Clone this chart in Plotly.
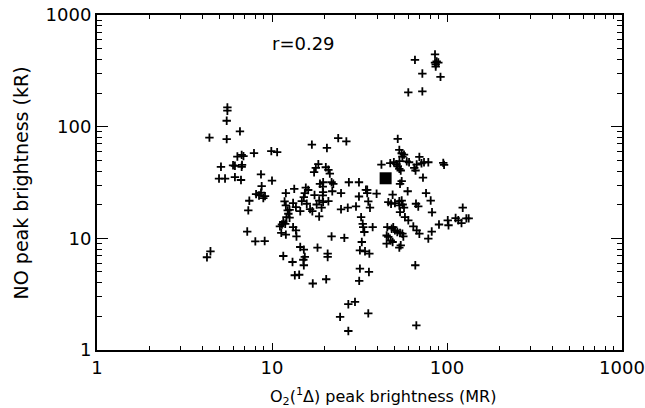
import plotly.graph_objects as go

# O2(1Delta) peak brightness (MR) and NO peak brightness (kR)
o2_mr = [4.25, 4.45, 4.39, 5.56, 5.56, 5.51, 6.56, 5.51, 6.34, 6.71, 6.87, 7.89, 9.91, 10.7,
         5.11, 5.99, 6.14, 6.74, 6.71, 4.98, 5.39, 6.14, 6.65, 8.65, 10.0, 8.73, 8.11, 8.43,
         8.65, 9.12, 8.92, 7.42, 7.32, 7.22, 8.03, 9.08, 11.6,
         12.0, 11.8, 12.0, 12.3, 12.4, 12.1, 11.6, 11.4, 11.1, 11.9, 11.3, 12.0,
         16.9, 20.6, 23.9, 26.6, 18.4, 17.8, 17.4, 20.3, 21.0, 21.4, 18.8, 19.6, 21.9, 22.4,
         27.5, 31.4, 13.4, 15.6, 16.1, 15.4, 19.5, 19.6, 22.1, 24.8, 31.4, 35.0,
         12.6, 13.2, 13.7, 14.5, 14.8, 15.2, 15.8, 16.5, 17.0, 17.5, 18.0, 18.6, 19.2, 19.6,
         21.0, 19.5, 24.8, 27.1, 30.2, 18.6, 12.6, 13.2, 13.7, 13.8, 21.9, 25.9,
         32.3, 33.0, 33.2, 33.7, 32.6, 31.8, 14.5, 15.2, 18.2, 20.8, 20.8, 15.4,
         13.1, 15.1, 15.2, 13.5, 14.3, 17.1, 20.4, 36.0, 31.8, 35.8, 31.5, 65.9,
         27.3, 29.8, 24.5, 35.5, 27.3, 66.8,
         52.3, 53.4, 55.1, 56.8, 55.6, 42.2, 47.4, 49.7, 51.4, 52.3, 53.4, 54.4, 53.5, 58.9,
         60.7, 65.0, 67.1, 69.5, 71.5, 73.9, 78.2, 66.1, 95.2, 96.2, 72.9, 55.1, 53.9, 59.6,
         34.4, 35.0, 39.6, 48.9, 46.2, 47.9, 50.4, 53.4, 55.1, 53.4, 55.8, 56.8, 53.9, 57.5,
         60.1, 66.5, 68.5, 75.9, 80.7, 82.1, 35.5, 36.3, 34.0, 37.6, 45.6, 48.3, 49.3, 50.4,
         45.2, 46.2, 47.7, 45.2, 48.9, 52.0, 53.9, 55.6, 56.3, 54.4, 53.4, 64.2, 67.1, 69.5,
         81.8, 78.2, 90.0, 101, 102, 112, 116, 121, 123, 129, 133,
         65.6, 85.4, 85.4, 89.2, 86.2, 87.3, 86.2, 72.3, 91.8, 60.1, 72.3]
no_kr = [6.77, 7.65, 79.8, 149, 139, 113, 90.8, 77.3, 54.0, 55.9, 54.5, 58.0, 60.4, 59.2,
         43.7, 45.1, 44.6, 45.5, 43.7, 34.3, 34.3, 35.3, 33.3, 37.4, 32.9, 29.3, 24.9, 24.2,
         25.6, 23.9, 22.9, 21.7, 17.8, 11.5, 9.40, 9.46, 6.95,
         25.4, 21.4, 19.7, 17.8, 16.6, 15.5, 14.0, 13.3, 12.8, 13.5, 11.2, 10.8,
         69.1, 64.5, 78.9, 73.8, 46.2, 42.8, 39.1, 43.3, 41.1, 38.0, 30.8, 31.8, 31.8, 30.8,
         31.8, 31.8, 27.7, 28.4, 27.1, 25.4, 29.1, 25.9, 26.4, 25.4, 23.7, 27.2,
         18.0, 20.7, 19.0, 17.5, 21.5, 23.4, 20.4, 18.3, 17.5, 24.4, 20.1, 21.8, 18.8, 21.1,
         21.5, 24.2, 18.2, 18.8, 19.3, 15.7, 15.3, 12.6, 11.8, 10.4, 10.4, 10.1,
         15.5, 13.5, 12.6, 11.4, 9.27, 7.81, 8.36, 7.93, 8.26, 7.30, 6.81, 6.81,
         6.14, 6.43, 5.74, 4.67, 4.72, 3.94, 4.30, 7.30, 5.36, 5.00, 4.16, 5.74,
         2.57, 2.70, 1.98, 2.13, 1.48, 1.66,
         77.7, 61.9, 57.8, 56.2, 54.0, 45.8, 47.2, 48.0, 46.2, 44.2, 41.9, 40.5, 49.2, 48.9,
         48.0, 42.8, 45.8, 53.6, 47.0, 48.0, 48.0, 40.5, 47.4, 45.5, 35.0, 32.5, 30.8, 26.4,
         27.2, 25.4, 25.1, 24.6, 21.1, 20.4, 20.7, 21.5, 21.8, 19.7, 20.1, 18.8, 17.2, 15.5,
         14.5, 20.4, 19.3, 25.4, 21.8, 17.1, 21.4, 18.8, 7.65, 12.6, 12.6, 12.2, 12.6, 11.8,
         10.6, 10.3, 9.60, 8.97, 9.27, 11.4, 11.2, 11.0, 10.4, 8.66, 8.26, 12.8, 11.8, 11.0,
         11.5, 9.94, 13.3, 14.5, 13.1, 15.2, 14.5, 13.7, 18.8, 15.1, 15.1,
         396, 444, 375, 375, 361, 384, 345, 299, 279, 203, 207]

# highlighted point
square_x = [44.6]
square_y = [34.5]

tick_vals = [1, 10, 100, 1000]
tick_text = ["1", "10", "100", "1000"]
minor_vals = [m * d for d in (1, 10, 100) for m in range(2, 10)]
r_label = "r=0.29"
x_title = "O<sub>2</sub>(<sup>1</sup>Δ) peak brightness (MR)"
y_title = "NO peak brightness (kR)"

FONT = "DejaVu Sans"

fig = go.Figure()
fig.add_trace(go.Scatter(
    x=o2_mr, y=no_kr, mode="markers",
    marker=dict(symbol="cross-thin", size=6, line=dict(color="black", width=1.8), color="black"),
    showlegend=False))
fig.add_trace(go.Scatter(
    x=square_x, y=square_y, mode="markers",
    marker=dict(symbol="square", size=12, color="black"),
    showlegend=False))


def axis_style(major_len, minor_len):
    return dict(
        type="log", range=[0, 3], automargin=False, showgrid=False, zeroline=False,
        showline=True, linecolor="black", linewidth=2, mirror="allticks",
        tickmode="array", tickvals=tick_vals, ticktext=tick_text,
        ticks="inside", ticklen=major_len, tickwidth=1.2, tickcolor="black",
        minor=dict(tickmode="array", tickvals=minor_vals, ticks="inside",
                   ticklen=minor_len, tickwidth=1.2, tickcolor="black", showgrid=False),
        tickfont=dict(family=FONT, size=18, color="black"),
    )


fig.update_layout(
    template="none",
    xaxis=axis_style(7, 4),
    yaxis=axis_style(11, 5),
)

fig.add_annotation(text=r_label, xref="paper", yref="paper", x=0.394, y=0.915,
                   showarrow=False, xanchor="center", yanchor="middle",
                   font=dict(family=FONT, size=18, color="black"))
fig.add_annotation(text=x_title, xref="paper", yref="paper", x=0.545, y=-0.14,
                   showarrow=False, xanchor="center", yanchor="middle",
                   font=dict(family=FONT, size=16, color="black"))
fig.add_annotation(text=y_title, xref="paper", yref="paper", x=-0.145, y=0.5,
                   textangle=-90, showarrow=False, xanchor="center", yanchor="middle",
                   font=dict(family=FONT, size=19, color="black"))

fig.update_layout(
    width=645, height=408,
    margin=dict(l=97, r=23, t=15, b=58, autoexpand=False),
    paper_bgcolor="white", plot_bgcolor="white",
    font=dict(family=FONT, color="black"),
)

fig.write_html("out.html", config={"displayModeBar": False},
               post_script="document.body.style.margin='0';document.body.style.overflow='hidden';")
